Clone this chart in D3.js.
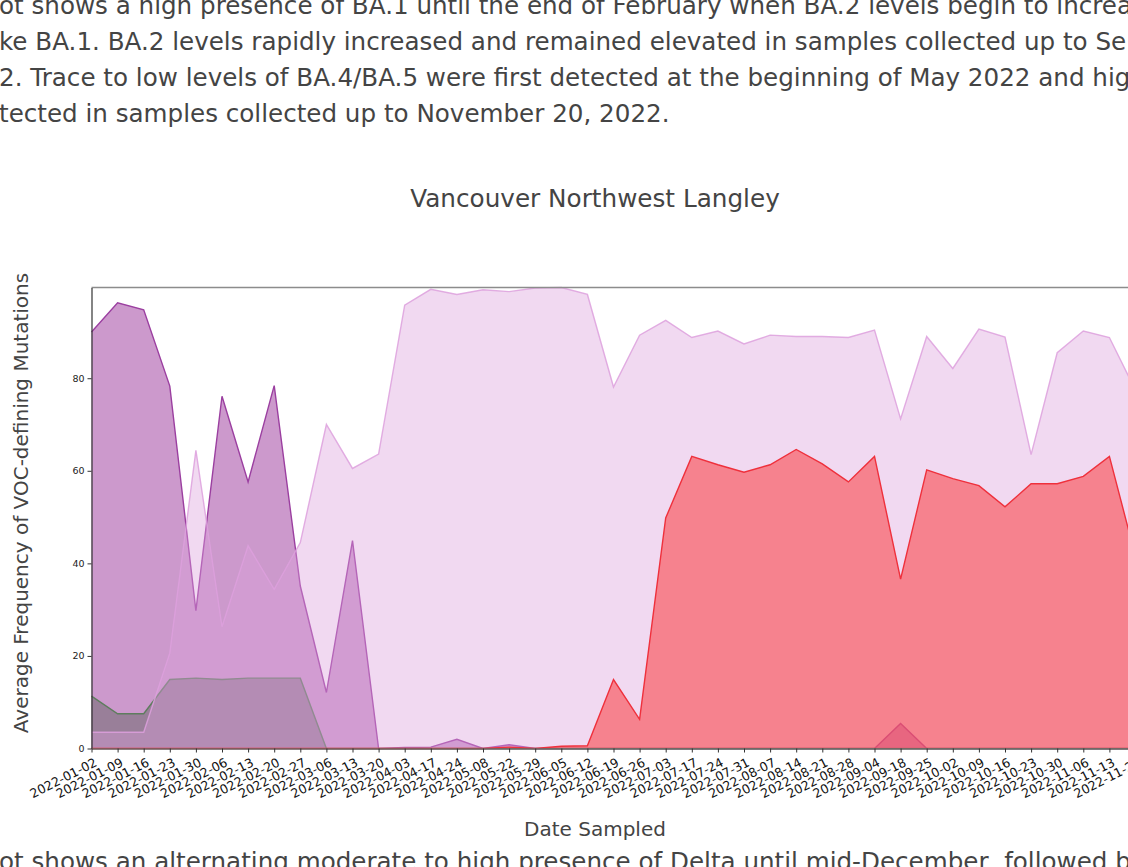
<!DOCTYPE html>
<html>
<head>
<meta charset="utf-8">
<script src="https://cdn.jsdelivr.net/npm/d3@7"></script>
<style>
  html, body { margin: 0; padding: 0; background: #fff; overflow: hidden; }
  svg { display: block; font-family: "DejaVu Sans", sans-serif; }
</style>
</head>
<body>
<svg id="chart" width="1128" height="867"></svg>
<script>
// ---------- data ----------
const categories = [
  "2022-01-02","2022-01-09","2022-01-16","2022-01-23","2022-01-30","2022-02-06","2022-02-13",
  "2022-02-20","2022-02-27","2022-03-06","2022-03-13","2022-03-20","2022-04-03","2022-04-17",
  "2022-04-24","2022-05-08","2022-05-22","2022-05-29","2022-06-05","2022-06-12","2022-06-19",
  "2022-06-26","2022-07-03","2022-07-17","2022-07-24","2022-07-31","2022-08-07","2022-08-14",
  "2022-08-21","2022-08-28","2022-09-04","2022-09-18","2022-09-25","2022-10-02","2022-10-09",
  "2022-10-16","2022-10-23","2022-10-30","2022-11-06","2022-11-13","2022-11-20"
];
const ba1 = [
  90.0, 96.3, 94.8, 78.3, 29.8, 76.1, 57.6, 78.4, 35.1, 12.1, 44.9, 0, 0.2, 0.3,
  2.0, 0, 0.8, 0, 0, 0, 0, 0, 0, 0, 0, 0, 0, 0,
  0, 0, 0, 5.4, 0, 0, 0, 0, 0, 0, 0, 0, 0
];
const delta = [
  11.3, 7.5, 7.5, 14.9, 15.2, 14.9, 15.2, 15.2, 15.2, 0, 0, 0, 0, 0,
  0, 0, 0, 0, 0, 0, 0, 0, 0, 0, 0, 0, 0, 0,
  0, 0, 0, 0, 0, 0, 0, 0, 0, 0, 0, 0, 0
];
const ba2 = [
  3.5, 3.5, 3.5, 20.6, 64.4, 26.3, 43.8, 34.4, 44.5, 70.0, 60.5, 63.6, 95.8, 99.2,
  98.1, 99.1, 98.7, 99.5, 99.6, 98.1, 78.1, 89.3, 92.5, 88.8, 90.2, 87.4, 89.3, 89.0,
  89.0, 88.8, 90.4, 71.2, 89.0, 82.1, 90.6, 88.9, 63.5, 85.5, 90.2, 88.8, 77.4
];
const ba45 = [
  0, 0, 0, 0, 0, 0, 0, 0, 0, 0, 0, 0, 0, 0,
  0, 0, 0.3, 0, 0.5, 0.6, 14.9, 6.3, 49.8, 63.1, 61.3, 59.7, 61.3, 64.6,
  61.5, 57.6, 63.1, 36.6, 60.2, 58.3, 56.8, 52.2, 57.2, 57.2, 58.8, 63.1, 41.5
];
const yTicks = [0, 20, 40, 60, 80];

const titleText = "Vancouver Northwest Langley";
const xLabel = "Date Sampled";
const yLabel = "Average Frequency of VOC-defining Mutations";
const topParagraph = [
  "ot shows a high presence of BA.1 until the end of February when BA.2 levels begin to increa",
  "ke BA.1. BA.2 levels rapidly increased and remained elevated in samples collected up to Se",
  "2. Trace to low levels of BA.4/BA.5 were first detected at the beginning of May 2022 and hig",
  "tected in samples collected up to November 20, 2022."
];
const bottomParagraph = "ot shows an alternating moderate to high presence of Delta until mid-December, followed b";

const series = [
  { name: "BA.1", values: ba1, fill: "#800080", fillOpacity: 0.4, stroke: "#9b3fa0", strokeOpacity: 1 },
  { name: "Delta", values: delta, fill: "#666666", fillOpacity: 0.5, stroke: "#5e7d5e", strokeOpacity: 1 },
  { name: "BA.2", values: ba2, fill: "#dda0dd", fillOpacity: 0.4, stroke: "#dda0dd", strokeOpacity: 0.85 },
  { name: "BA.4/BA.5", values: ba45, fill: "#fa3b3d", fillOpacity: 0.55, stroke: "#ef303c", strokeOpacity: 1 }
];

(function draw() {
  const svg = d3.select("#chart");
  const pL = 91.5, pR = 1135.5, pT = 287.5, pB = 748.5;

  const x = d3.scalePoint().domain(categories).range([pL, pR]);
  const yMax = d3.max(series.flatMap(s => s.values));
  const y = d3.scaleLinear().domain([0, yMax]).range([pB, pT]);

  // paragraphs
  const para = svg.append("g").attr("fill", "#444").attr("font-size", 24.6);
  para.selectAll("text.top").data(topParagraph).join("text")
    .attr("class", "top")
    .attr("x", -1)
    .attr("y", (d, i) => 14 + i * 36)
    .text(d => d);
  para.append("text").attr("x", -1).attr("y", 870).text(bottomParagraph);

  // title
  svg.append("text")
    .attr("x", 595).attr("y", 207)
    .attr("text-anchor", "middle")
    .attr("font-size", 24.7).attr("fill", "#444")
    .text(titleText);

  // areas
  const plot = svg.append("g");
  series.forEach(s => {
    const pts = categories.map((c, i) => [c, s.values[i]]);
    const area = d3.area().x(d => x(d[0])).y0(y(0)).y1(d => y(d[1]));
    const line = d3.line().x(d => x(d[0])).y(d => y(d[1]));
    plot.append("path").datum(pts)
      .attr("d", area)
      .attr("fill", s.fill).attr("fill-opacity", s.fillOpacity)
      .attr("stroke", "none");
    plot.append("path").datum(pts)
      .attr("d", line)
      .attr("fill", "none")
      .attr("stroke", s.stroke).attr("stroke-opacity", s.strokeOpacity)
      .attr("stroke-width", 1.4);
  });

  // frame
  svg.append("line").attr("x1", pL).attr("x2", pR).attr("y1", pT).attr("y2", pT)
    .attr("stroke", "#8c8c8c").attr("stroke-width", 1.5);
  svg.append("line").attr("x1", pR).attr("x2", pR).attr("y1", pT).attr("y2", pB)
    .attr("stroke", "#8c8c8c").attr("stroke-width", 1.5);

  // y axis
  const yAxis = svg.append("g")
    .attr("transform", `translate(${pL},0)`)
    .call(d3.axisLeft(y).tickValues(yTicks).tickSize(4).tickSizeOuter(0).tickPadding(3));
  yAxis.select(".domain").attr("stroke", "#333").attr("stroke-width", 1.2);
  yAxis.selectAll(".tick line").attr("stroke", "#333");
  yAxis.selectAll(".tick text").attr("font-size", 9.5).attr("fill", "#222")
    .attr("font-family", "DejaVu Sans, sans-serif");

  // x axis
  const xAxis = svg.append("g")
    .attr("transform", `translate(0,${pB})`)
    .call(d3.axisBottom(x).tickSize(4).tickSizeOuter(0).tickPadding(2));
  xAxis.select(".domain").attr("stroke", "#666").attr("stroke-width", 1.6);
  xAxis.selectAll(".tick line").attr("stroke", "#333");
  xAxis.selectAll(".tick text")
    .attr("font-size", 12.6).attr("fill", "#111")
    .attr("font-family", "DejaVu Sans, sans-serif")
    .attr("text-anchor", "end")
    .attr("dy", "0.75em")
    .attr("transform", "translate(-1,3) rotate(-27)");

  // axis labels
  svg.append("text")
    .attr("x", 595).attr("y", 836)
    .attr("text-anchor", "middle")
    .attr("font-size", 20).attr("fill", "#444")
    .text(xLabel);
  svg.append("text")
    .attr("transform", "translate(28,503) rotate(-90)")
    .attr("text-anchor", "middle")
    .attr("font-size", 20).attr("fill", "#444")
    .text(yLabel);
})();
</script>
</body>
</html>
